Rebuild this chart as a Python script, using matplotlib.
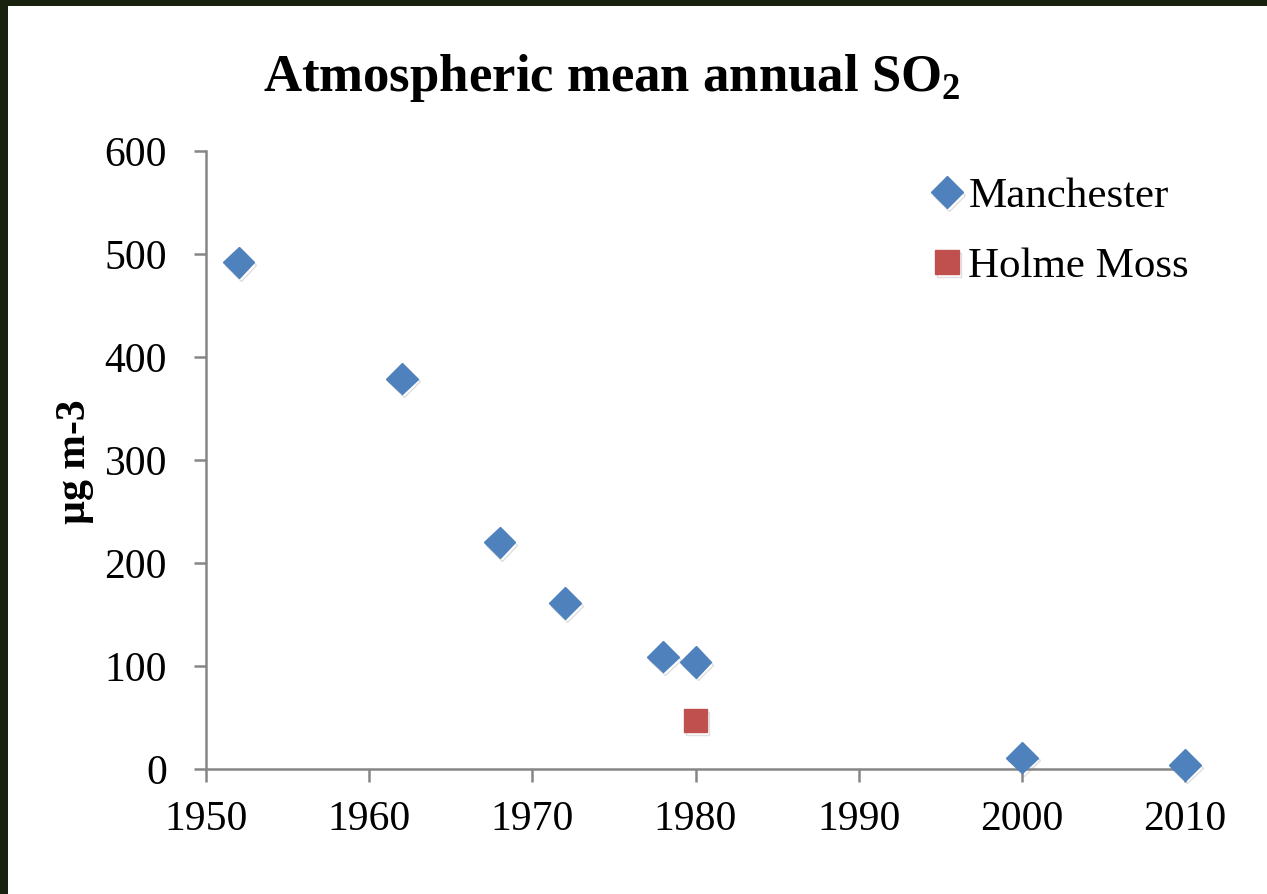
import matplotlib
matplotlib.use("Agg")
import matplotlib.pyplot as plt
from matplotlib.patches import Rectangle
import matplotlib.patheffects as pe

plt.rcParams['font.family'] = ['Liberation Serif', 'DejaVu Serif']
plt.rcParams['mathtext.fontset'] = 'custom'
plt.rcParams['mathtext.rm'] = 'Liberation Serif:bold'
plt.rcParams['mathtext.bf'] = 'Liberation Serif:bold'

title = r"Atmospheric mean annual SO$_{\mathbf{2}}$"
ylabel = "µg m-3"

manchester_years = [1952, 1962, 1968, 1972, 1978, 1980, 2000, 2010]
manchester_so2 = [492, 379, 220, 161, 109, 104, 11, 4]
holme_years = [1980]
holme_so2 = [47]

xticks = [1950, 1960, 1970, 1980, 1990, 2000, 2010]
yticks = [0, 100, 200, 300, 400, 500, 600]

blue = '#4F81BD'
red = '#C0504D'
axis_gray = '#868686'

fig = plt.figure(figsize=(12.67, 8.94), dpi=100)
fig.patch.set_facecolor('white')

ax = fig.add_axes([206/1267, 1-769/894, (1185-206)/1267, (769-151)/894])
shadow = [pe.SimpleLineShadow(offset=(1.5, -2), shadow_color='gray', alpha=0.25), pe.Normal()]
l1, = ax.plot(manchester_years, manchester_so2, linestyle='none', marker='D', markersize=16,
              color=blue, markeredgecolor=blue, label='Manchester', clip_on=False, zorder=3)
l1.set_path_effects(shadow)
l2, = ax.plot(holme_years, holme_so2, linestyle='none', marker='s', markersize=17,
              color=red, markeredgecolor=red, label='Holme Moss', clip_on=False, zorder=3)
l2.set_path_effects(shadow)

ax.set_xlim(1950, 2010)
ax.set_ylim(0, 600)
ax.set_xticks(xticks)
ax.set_yticks(yticks)
ax.tick_params(axis='both', direction='out', length=9, width=1.8, color=axis_gray,
               labelsize=30, colors='black')
ax.tick_params(axis='x', pad=14)
ax.tick_params(axis='y', pad=19)
for s in ['top', 'right']:
    ax.spines[s].set_visible(False)
for s in ['left', 'bottom']:
    ax.spines[s].set_color(axis_gray)
    ax.spines[s].set_linewidth(1.8)

fig.text(75/1267, 1-462/894, ylabel, rotation=90, fontsize=30, fontweight='bold',
         ha='center', va='center')
fig.text(612/1267, 1-91/894, title, fontsize=38, fontweight='bold', ha='center', va='baseline')

leg = ax.legend(loc='upper left', bbox_to_anchor=(934/1267, 1-177/894), bbox_transform=fig.transFigure,
                frameon=False, fontsize=31, handlelength=0.6, handletextpad=0.2,
                labelspacing=0.72, borderpad=0, borderaxespad=0)

# dark border on left and top
fig.patches.append(Rectangle((0, 0), 8/1267, 1, transform=fig.transFigure,
                             facecolor='#18220f', edgecolor='none', zorder=10))
fig.patches.append(Rectangle((0, 1-6/894), 1, 6/894, transform=fig.transFigure,
                             facecolor='#18220f', edgecolor='none', zorder=10))

fig.savefig('out.png', dpi=100, facecolor='white')
